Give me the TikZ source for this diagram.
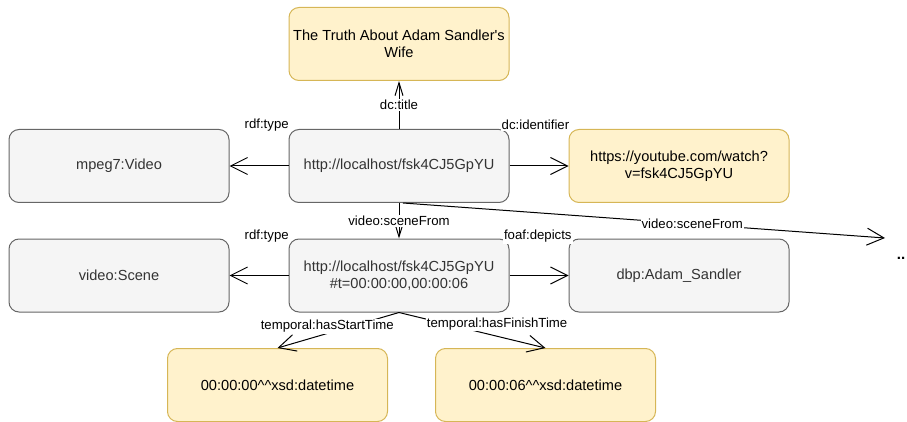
\documentclass[tikz,border=0pt]{standalone}
\usepackage{fontspec}
\setmainfont{Liberation Sans}
\usepackage{xcolor}
\usetikzlibrary{arrows.meta}

\definecolor{grayfill}{HTML}{F5F5F5}
\definecolor{grayline}{HTML}{666666}
\definecolor{graytext}{HTML}{333333}
\definecolor{litfill}{HTML}{FFF2CC}
\definecolor{litline}{HTML}{D6B656}

\tikzset{
    res/.style={draw=grayline, fill=grayfill, text=graytext, line width=1pt,
        rounded corners=10pt, minimum width=220pt, minimum height=73pt,
        align=center, font=\fontsize{14.6}{17}\selectfont},
    lit/.style={res, draw=litline, fill=litfill, text=black},
    lbl/.style={fill=white, inner sep=1pt, font=\fontsize{13.2}{15}\selectfont},
    edge/.style={draw, line width=1pt, ->},
    vedge/.style={edge, -{Straight Barb[length=13pt, width=8pt]}}
}

\begin{document}
\begin{tikzpicture}[>={Straight Barb[length=17pt, width=17pt]}, x=1pt, y=-1pt]
    \useasboundingbox (0,0) rectangle (907,422);

    % 1. Các nút: video, cảnh và các giá trị
    \node[lit] (title) at (399,44) {The Truth About Adam Sandler\textquotesingle s\\Wife};
    \node[res] (video) at (399,166) {http://localhost/fsk4CJ5GpYU};
    \node[res] (mpeg) at (119,166) {mpeg7:Video};
    \node[lit] (yt) at (679,166) {https://youtube.com/watch?\\v=fsk4CJ5GpYU};
    \node[res] (scene) at (399,275.5) {http://localhost/fsk4CJ5GpYU\\\#t=00:00:00,00:00:06};
    \node[res] (sceneclass) at (119,275.5) {video:Scene};
    \node[res] (actor) at (679,275.5) {dbp:Adam\_Sandler};
    \node[lit] (start) at (277.5,385) {00:00:00\textasciicircum\textasciicircum xsd:datetime};
    \node[lit] (finish) at (545.5,385) {00:00:06\textasciicircum\textasciicircum xsd:datetime};
    \coordinate (more) at (885,238);
    \node[inner sep=0pt, font=\fontsize{15}{17}\selectfont\bfseries] (dots) at (901,258) {..};

    % 2. Các cạnh của video
    \draw[vedge] (video) -- (title) node[lbl, midway] (ltitle) {dc:title};
    \draw[edge] (video) -- (mpeg) node[lbl, pos=0.37, yshift=41pt] (ltype) {rdf:type};
    \draw[edge] (video) -- (yt) node[lbl, pos=0.44, yshift=41pt] (lid) {dc:identifier};
    \draw[vedge] (video) -- (scene) node[lbl, midway] (lfrom) {video:sceneFrom};
    \draw[edge] ([xshift=4pt]video.south) -- (more) node[lbl, pos=0.6] (lmore) {video:sceneFrom};

    % 3. Các cạnh của cảnh
    \draw[edge] (scene) -- (sceneclass) node[lbl, pos=0.37, yshift=39pt] (lstype) {rdf:type};
    \draw[edge] (scene) -- (actor) node[lbl, pos=0.48, yshift=39pt] (ldep) {foaf:depicts};
    \draw[edge] (scene.south) -- (start.north) node[lbl, pos=0.59, yshift=7pt] (lstart) {temporal:hasStartTime};
    \draw[edge] (scene.south) -- (finish.north) node[lbl, pos=0.67, yshift=12pt] (lfinish) {temporal:hasFinishTime};
\end{tikzpicture}
\end{document}
